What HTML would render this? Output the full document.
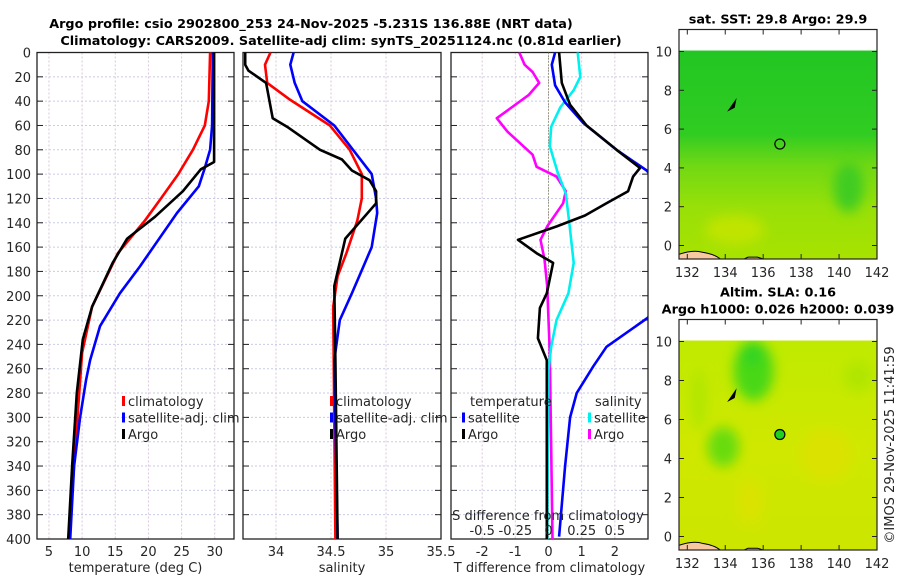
<!DOCTYPE html>
<html><head><meta charset="utf-8">
<style>
body{margin:0;background:#fff;}
svg{display:block;font-family:"DejaVu Sans","Liberation Sans",sans-serif;}
.tk{font-size:13px;fill:#262626;}
.ttl{font-size:12.8px;font-weight:bold;fill:#000;}
</style></head>
<body>
<svg id="fig" width="900" height="580" viewBox="0 0 900 580" xmlns="http://www.w3.org/2000/svg">
<defs><filter id="blur" x="-50%" y="-50%" width="200%" height="200%"><feGaussianBlur stdDeviation="6"/></filter></defs>
<text class="ttl" x="311" y="28" text-anchor="middle">Argo profile: csio 2902800_253 24-Nov-2025 -5.231S 136.88E (NRT data)</text>
<text class="ttl" x="341" y="45" text-anchor="middle">Climatology: CARS2009. Satellite-adj clim: synTS_20251124.nc (0.81d earlier)</text>
<g id="p1"></g>
<g id="p2"></g>
<g id="p3"></g>
<g id="m1"></g>
<g id="m2"></g>
<text class="tk" transform="translate(894,445) rotate(-90)" text-anchor="middle">©IMOS 29-Nov-2025 11:41:59</text>
</svg>
<script>
// ---- data ----
const tArgoD=[0,90,96,114,135,153,173,209,236,280,339,400];
const tArgoV=[29.9,29.9,27.9,25.2,21,16.8,14.6,11.5,10.1,9.2,8.5,7.9];
const tClimD=[0,40,60,80,100,120,138,165,209,247,400];
const tClimV=[29.3,29.1,28.5,26.7,24.5,21.9,19.5,15.4,11.5,10,8];
const tSatD=[0,60,80,95,110,132,176,198,225,253,269,300,340,400];
const tSatV=[29.7,29.6,29.3,28.5,27.6,24.3,18.7,15.7,12.7,11.2,10.6,9.7,8.8,8.2];
const sArgoD=[0,10,15,25,54,61,80,88,97,105,114,124,153,192,253,400];
const sArgoV=[33.72,33.72,33.75,33.91,33.97,34.1,34.4,34.6,34.69,34.85,34.91,34.91,34.63,34.53,34.54,34.56];
const sClimD=[0,10,25,39,60,80,100,120,138,165,184,209,400];
const sClimV=[33.95,33.9,33.92,34.13,34.49,34.67,34.78,34.78,34.74,34.64,34.56,34.52,34.54];
const sSatD=[0,10,25,40,60,80,100,120,132,160,179,198,220,253,400];
const sSatV=[34.16,34.13,34.17,34.24,34.53,34.7,34.87,34.91,34.92,34.87,34.78,34.69,34.58,34.53,34.56];
const dtArgoD=[0,25,43,60,80,95,102,114,124,134,143,154,165,173,198,210,235,253,400];
const dtArgoV=[0.32,0.4,0.65,1.15,2.05,2.76,2.55,2.4,1.75,1.1,0.25,-0.92,-0.36,0.14,-0.05,-0.26,-0.32,-0.05,-0.05];
const dtSatD=[0,10,27,41,58,80,97,150,218,242,258,280,300,340,398];
const dtSatV=[0.2,0.1,0.2,0.5,1.05,2.05,2.96,4.5,3.0,1.75,1.35,0.85,0.65,0.5,0.32];
const dsArgoD=[0,10,16,25,35,54,65,84,94,102,114,124,143,154,170,192,247,400];
const dsArgoV=[-0.22,-0.18,-0.12,-0.07,-0.15,-0.39,-0.31,-0.12,-0.09,0.06,0.13,0.11,-0.01,-0.06,-0.03,-0.01,0.01,0.03];
const dsSatD=[0,20,31,45,61,77,99,116,143,173,198,220,242,261,400];
const dsSatV=[0.22,0.24,0.19,0.09,0.02,0.01,0.07,0.13,0.16,0.19,0.15,0.06,0.02,0,-0.01];
const depthTicks=[0,20,40,60,80,100,120,140,160,180,200,220,240,260,280,300,320,340,360,380,400];
const tTicks=[5,10,15,20,25,30];
const sTicks=[34,34.5,35,35.5];
const dTicks=[-2,-1,0,1,2];
const dsTickLabels=["-0.5","-0.25","0","0.25","0.5"];
const dsTicks=[-0.5,-0.25,0,0.25,0.5];
const lonTicks=[132,134,136,138,140,142];
const latTicks=[0,2,4,6,8,10];
const argoLon=136.88, argoLat=5.23;

const NS="http://www.w3.org/2000/svg";
function mk(parent,tag,attrs){const e=document.createElementNS(NS,tag);for(const k in attrs)e.setAttribute(k,attrs[k]);parent.appendChild(e);return e;}
const Y0=52.5,Y1=539;
const yD=d=>Y0+(Y1-Y0)*d/400;

function panel(g,x0,x1,xmin,xmax,xticks,xlabels,labelY,name){
  const xs=v=>x0+(x1-x0)*(v-xmin)/(xmax-xmin);
  const cid='clip'+name;
  const cp=mk(g,'clipPath',{id:cid});mk(cp,'rect',{x:x0,y:Y0,width:x1-x0,height:Y1-Y0});
  depthTicks.forEach(d=>{const l=mk(g,'line',{x1:x0,x2:x1,y1:yD(d),y2:yD(d),stroke:'#c8cbe8','stroke-dasharray':'2,2','stroke-width':1});
    });
  xticks.forEach(v=>{const l=mk(g,'line',{x1:xs(v),x2:xs(v),y1:Y0,y2:Y1,stroke:'#d8c8d8','stroke-dasharray':'2,2','stroke-width':1});
    });
  depthTicks.forEach(d=>{mk(g,'line',{x1:x0,x2:x0+6,y1:yD(d),y2:yD(d),stroke:'#222'});mk(g,'line',{x1:x1-6,x2:x1,y1:yD(d),y2:yD(d),stroke:'#222'});});
  mk(g,'rect',{x:x0,y:Y0,width:x1-x0,height:Y1-Y0,fill:'none',stroke:'#222','stroke-width':1.3});
  xticks.forEach((v,i)=>{const t=mk(g,'text',{x:xs(v),y:556,'text-anchor':'middle',class:'tk'});t.textContent=xlabels[i];
    });
  const lab=mk(g,'text',{x:(x0+x1)/2,y:572,'text-anchor':'middle',class:'tk'});lab.textContent=labelY;
  
  return {xs,cid};
}
function line(g,P,xs,D,V,color,name,w){
  const pts=D.map((d,i)=>xs(V[i]).toFixed(1)+','+yD(d).toFixed(1)).join(' ');
  const pl=mk(g,'polyline',{points:pts,fill:'none',stroke:color,'stroke-width':w||2.6,'stroke-linejoin':'round','clip-path':'url(#'+P.cid+')'});
  
}
function legend(g,x,rows){rows.forEach((r,i)=>{const y=401+i*16.5;
  mk(g,'rect',{x:x,y:y-5,width:3,height:10,fill:r[1]});
  if(r[0]){const t=mk(g,'text',{x:x+6,y:y+5,class:'tk'});t.textContent=r[0];
  }});}

// panel 1
const g1=document.getElementById('p1');
const P1=panel(g1,37,234,3.2,32.9,tTicks,tTicks.map(String),'temperature (deg C)','1');
depthTicks.forEach(d=>{const t=mk(g1,'text',{x:31,y:yD(d)+5,'text-anchor':'end',class:'tk'});t.textContent=d;
  });
line(g1,P1,P1.xs,tClimD,tClimV,'#ff0000','temp-climatology-line');
line(g1,P1,P1.xs,tSatD,tSatV,'#0000ff','temp-satellite-line');
line(g1,P1,P1.xs,tArgoD,tArgoV,'#000000','temp-argo-line');
legend(g1,122,[['climatology','#ff0000'],['satellite-adj. clim','#0000ff'],['Argo','#000']]);

// panel 2
const g2=document.getElementById('p2');
const P2=panel(g2,243,441,33.7,35.5,sTicks,['34','34.5','35','35.5'],'salinity','2');
line(g2,P2,P2.xs,sClimD,sClimV,'#ff0000','sal-climatology-line');
line(g2,P2,P2.xs,sSatD,sSatV,'#0000ff','sal-satellite-line');
line(g2,P2,P2.xs,sArgoD,sArgoV,'#000000','sal-argo-line');
legend(g2,330,[['climatology','#ff0000'],['satellite-adj. clim','#0000ff'],['Argo','#000']]);

// panel 3
const g3=document.getElementById('p3');
const P3=panel(g3,451,648,-2.94,3.0,dTicks,dTicks.map(String),'T difference from climatology','3');
const xsS=v=>P3.xs(v*4);
mk(g3,'line',{x1:P3.xs(0),x2:P3.xs(0),y1:Y0,y2:Y1,stroke:'#556633','stroke-dasharray':'1,2','stroke-width':1});
line(g3,P3,xsS,dsArgoD,dsArgoV,'#ff00ff','sal-diff-argo-line');
line(g3,P3,xsS,dsSatD,dsSatV,'#00f0f0','sal-diff-satellite-line');
line(g3,P3,P3.xs,dtSatD,dtSatV,'#0000ff','temp-diff-satellite-line');
line(g3,P3,P3.xs,dtArgoD,dtArgoV,'#000000','temp-diff-argo-line');
{const t=mk(g3,'text',{x:470,y:406,class:'tk'});t.textContent='temperature';
 const s=mk(g3,'text',{x:595,y:406,class:'tk'});s.textContent='salinity';}
legend(g3,462,[[null,'transparent'],['satellite','#0000ff'],['Argo','#000']]);
legend(g3,588,[[null,'transparent'],['satellite','#00f0f0'],['Argo','#ff00ff']]);
{const t=mk(g3,'text',{x:548,y:520,'text-anchor':'middle',class:'tk'});t.textContent='S difference from climatology';
 }
dsTicks.forEach((v,i)=>{const t=mk(g3,'text',{x:xsS(v),y:535,'text-anchor':'middle',class:'tk'});t.textContent=dsTickLabels[i];
  });

// maps
function map(g,top,bottom,titles,kind){
  const x0=679,x1=877;
  const lon=v=>687.3+(877-687.3)*(v-132)/10;
  const lat0=bottom-13.5, lat10=top+22;
  const la=v=>lat0+(lat10-lat0)*v/10;
  const id='mc'+kind;
  const defs=mk(g,'defs',{});
  const cp=mk(defs,'clipPath',{id:id+'c'});mk(cp,'rect',{x:x0,y:la(10.05),width:x1-x0,height:bottom-la(10.05)});
  const gr=mk(defs,'linearGradient',{id:id+'g',x1:0,y1:0,x2:0,y2:1});
  const stops=kind==='sst'?[[0,'#22c622'],[0.4,'#30cc22'],[0.55,'#70d814'],[0.75,'#98e008'],[1,'#a8e200']]:[[0,'#bfea00'],[0.5,'#d0e800'],[1,'#cce600']];
  stops.forEach(s=>mk(gr,'stop',{offset:s[0],'stop-color':s[1]}));
  mk(g,'rect',{x:x0,y:la(10.05),width:x1-x0,height:bottom-la(10.05),fill:'url(#'+id+'g)'});
  const cg=mk(g,'g',{'clip-path':'url(#'+id+'c)'});
  const bg=mk(cg,'g',{filter:'url(#blur)'});
  if(kind==='sla'){
    mk(bg,'ellipse',{cx:lon(135.5),cy:la(8.5),rx:20,ry:30,fill:'#48d818'});
    mk(bg,'ellipse',{cx:lon(135.4),cy:la(9.4),rx:12,ry:12,fill:'#30d420'});
    mk(bg,'ellipse',{cx:lon(133.9),cy:la(4.6),rx:16,ry:20,fill:'#68dc10'});
    mk(bg,'ellipse',{cx:lon(132.6),cy:la(7),rx:8,ry:30,fill:'#b0e600'});
    mk(bg,'ellipse',{cx:lon(139.3),cy:la(4.2),rx:25,ry:25,fill:'#dce200'});
    mk(bg,'ellipse',{cx:lon(135.3),cy:la(1.8),rx:12,ry:22,fill:'#dce200'});
    mk(bg,'ellipse',{cx:lon(141),cy:la(8.2),rx:15,ry:15,fill:'#b0e600'});
  } else {
    mk(bg,'ellipse',{cx:lon(140.5),cy:la(3),rx:15,ry:25,fill:'#40cc20'});
    mk(bg,'ellipse',{cx:lon(134.5),cy:la(0.8),rx:30,ry:15,fill:'#c0e400'});
  }
  mk(cg,'path',{d:`M${x0} ${bottom} L${x0} ${la(-0.45)} Q${lon(132.3)} ${la(-0.2)} ${lon(132.8)} ${la(-0.35)} Q${lon(133.5)} ${la(-0.45)} ${lon(133.8)} ${la(-0.75)} Z`,fill:'#f8c8a0',stroke:'#000','stroke-width':1});
  mk(cg,'path',{d:`M${lon(135)} ${bottom} L${lon(135.2)} ${la(-0.6)} L${lon(135.7)} ${la(-0.6)} L${lon(136)} ${bottom} Z`,fill:'#f8c8a0',stroke:'#000','stroke-width':1});
  mk(cg,'path',{d:`M${lon(134.1)} ${la(6.9)} L${lon(134.6)} ${la(7.6)} L${lon(134.5)} ${la(7.1)} Z`,fill:'#000'});
  const c=mk(g,'circle',{cx:lon(argoLon),cy:la(argoLat),r:5,fill:kind==='sla'?'#20d020':'none',stroke:'#000','stroke-width':1.2});
  
  mk(g,'rect',{x:x0,y:top,width:x1-x0,height:bottom-top,fill:'none',stroke:'#222','stroke-width':1.2});
  latTicks.forEach(v=>{mk(g,'line',{x1:x0,x2:x0+5,y1:la(v),y2:la(v),stroke:'#222'});mk(g,'line',{x1:x1-5,x2:x1,y1:la(v),y2:la(v),stroke:'#222'});
    const t=mk(g,'text',{x:672,y:la(v)+5,'text-anchor':'end',class:'tk'});t.textContent=v;
    });
  lonTicks.forEach(v=>{mk(g,'line',{x1:lon(v),x2:lon(v),y1:bottom,y2:bottom-5,stroke:'#222'});mk(g,'line',{x1:lon(v),x2:lon(v),y1:top,y2:top+5,stroke:'#222'});
    const t=mk(g,'text',{x:lon(v),y:bottom+18,'text-anchor':'middle',class:'tk'});t.textContent=v;
    });
  titles.forEach((s,i)=>{const t=mk(g,'text',{x:778,y:top-(titles.length-1-i)*17-6,'text-anchor':'middle',class:'ttl'});t.textContent=s;
    });
}
map(document.getElementById('m1'),29.5,259,['sat. SST: 29.8 Argo: 29.9'],'sst');
map(document.getElementById('m2'),319.5,550,['Altim. SLA: 0.16','Argo h1000: 0.026 h2000: 0.039'],'sla');
</script>
</body></html>
